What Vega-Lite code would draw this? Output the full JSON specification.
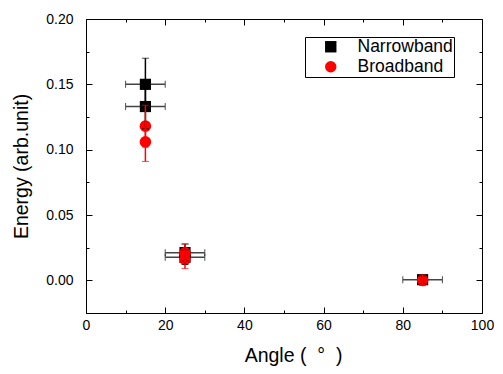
{
  "$schema": "https://vega.github.io/schema/vega-lite/v6.json",
  "width": 396,
  "height": 294,
  "autosize": {"type": "none"},
  "padding": {"left": 86, "top": 19, "right": 21, "bottom": 61},
  "config": {
    "view": {"stroke": "black", "strokeWidth": 1},
    "font": "Liberation Sans",
    "axis": {
      "grid": false,
      "domainColor": "black",
      "tickColor": "black",
      "labelColor": "black",
      "titleColor": "black",
      "labelFont": "Liberation Sans",
      "titleFont": "Liberation Sans",
      "labelFontSize": 14,
      "titleFontSize": 19.5,
      "titleFontWeight": "normal",
      "labelFlush": false
    }
  },
  "resolve": {"axis": {"x": "independent", "y": "independent"}},
  "data": {
    "values": [
      {"series": "Narrowband", "angle": 15, "aerr": 5, "energy": 0.150, "eerr": 0.020},
      {"series": "Narrowband", "angle": 15, "aerr": 5, "energy": 0.133, "eerr": 0.017},
      {"series": "Narrowband", "angle": 25, "aerr": 5, "energy": 0.0212, "eerr": 0.0065},
      {"series": "Narrowband", "angle": 25, "aerr": 5, "energy": 0.0176, "eerr": 0.0055},
      {"series": "Narrowband", "angle": 85, "aerr": 5, "energy": 0.0005, "eerr": 0.003},
      {"series": "Broadband", "angle": 15, "aerr": 0, "energy": 0.118, "eerr": 0.016},
      {"series": "Broadband", "angle": 15, "aerr": 0, "energy": 0.106, "eerr": 0.015},
      {"series": "Broadband", "angle": 25, "aerr": 0, "energy": 0.021, "eerr": 0.007},
      {"series": "Broadband", "angle": 25, "aerr": 0, "energy": 0.016, "eerr": 0.007},
      {"series": "Broadband", "angle": 85, "aerr": 0, "energy": 0.0, "eerr": 0.004}
    ]
  },
  "encoding": {
    "x": {
      "field": "angle", "type": "quantitative",
      "scale": {"domain": [0, 100], "nice": false, "zero": false, "padding": 0},
      "axis": null
    },
    "y": {
      "field": "energy", "type": "quantitative",
      "scale": {"domain": [-0.025, 0.2], "nice": false, "zero": false, "padding": 0},
      "axis": null
    }
  },
  "layer": [
    {
      "transform": [{"filter": "datum.series === 'Narrowband'"}],
      "mark": {"type": "errorbar", "ticks": {"size": 7, "color": "black", "strokeWidth": 1.5}, "rule": {"color": "#444", "strokeWidth": 1.5}},
      "encoding": {
        "xError": {"field": "aerr"}
      }
    },
    {
      "transform": [{"filter": "datum.series === 'Narrowband'"}],
      "mark": {"type": "point", "filled": true, "opacity": 1, "size": 125},
      "encoding": {
        "x": {
          "field": "angle", "type": "quantitative",
          "axis": {
            "title": "Angle (\u00a0\u00a0°\u00a0\u00a0)",
            "titleX": 207,
            "titleAlign": "center",
            "values": [0, 10, 20, 30, 40, 50, 60, 70, 80, 90, 100],
            "labelExpr": "datum.value % 20 === 0 ? datum.label : ''",
            "tickSize": {"condition": {"test": "datum.value % 20 === 0", "value": -6}, "value": -3},
            "labelPadding": 11,
            "titlePadding": 14
          }
        },
        "y": {
          "field": "energy", "type": "quantitative",
          "axis": {
            "title": "Energy (arb.unit)",
            "values": [0, 0.025, 0.05, 0.075, 0.1, 0.125, 0.15, 0.175, 0.2],
            "format": ".2f",
            "labelExpr": "round(datum.value*1000) % 50 === 0 ? datum.label : ''",
            "tickSize": {"condition": {"test": "round(datum.value*1000) % 50 === 0", "value": -6}, "value": -3},
            "labelPadding": 19,
            "titlePadding": 14
          }
        },
        "color": {
          "field": "series", "type": "nominal",
          "scale": {"domain": ["Narrowband", "Broadband"], "range": ["black", "red"]},
          "legend": {
            "title": null,
            "orient": "none",
            "legendX": 219,
            "legendY": 18,
            "strokeColor": "black",
            "fillColor": "white",
            "padding": 1,
            "labelFontSize": 17.5,
            "labelFont": "Liberation Sans",
            "labelColor": "black",
            "symbolSize": 130,
            "symbolOpacity": 1,
            "labelOffset": 18,
            "rowPadding": 1,
            "symbolOffset": 16
          }
        },
        "shape": {
          "field": "series", "type": "nominal",
          "scale": {"domain": ["Narrowband", "Broadband"], "range": ["square", "circle"]}
        }
      }
    },
    {
      "transform": [{"filter": "datum.series === 'Broadband'"}],
      "mark": {"type": "point", "filled": true, "opacity": 1, "size": 135},
      "encoding": {
        "x": {
          "field": "angle", "type": "quantitative",
          "axis": {
            "orient": "top",
            "title": null,
            "labels": false,
            "domain": false,
            "values": [0, 10, 20, 30, 40, 50, 60, 70, 80, 90, 100],
            "tickSize": {"condition": {"test": "datum.value % 20 === 0", "value": -6}, "value": -3}
          }
        },
        "y": {
          "field": "energy", "type": "quantitative",
          "axis": {
            "orient": "right",
            "title": null,
            "labels": false,
            "domain": false,
            "values": [0, 0.025, 0.05, 0.075, 0.1, 0.125, 0.15, 0.175, 0.2],
            "tickSize": {"condition": {"test": "round(datum.value*1000) % 50 === 0", "value": -6}, "value": -3}
          }
        },
        "color": {"field": "series", "type": "nominal"},
        "shape": {"field": "series", "type": "nominal"}
      }
    },
    {
      "transform": [{"filter": "datum.series === 'Narrowband'"}],
      "mark": {"type": "errorbar", "ticks": {"size": 7, "color": "black", "strokeWidth": 1.5}, "rule": {"color": "black", "strokeWidth": 1.5}},
      "encoding": {
        "yError": {"field": "eerr"}
      }
    },
    {
      "transform": [{"filter": "datum.series === 'Broadband'"}],
      "mark": {"type": "errorbar", "ticks": {"size": 7, "color": "red", "strokeWidth": 1.5}, "rule": {"color": "red", "strokeWidth": 1.5}},
      "encoding": {
        "yError": {"field": "eerr"}
      }
    }
  ]
}
